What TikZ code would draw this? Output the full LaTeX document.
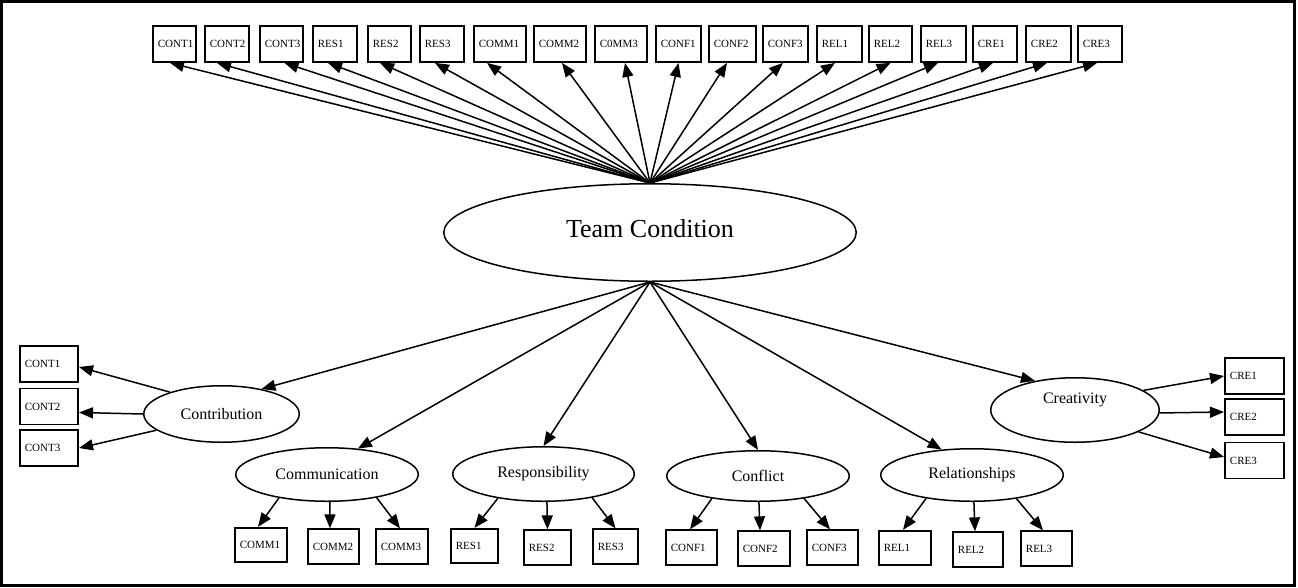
\documentclass[tikz,border=0pt]{standalone}
\usepackage{fontspec}
\setmainfont{Liberation Serif}
\usetikzlibrary{shapes.geometric,arrows.meta}
\begin{document}
\begin{tikzpicture}[x=1pt,y=-1pt,
  box/.style={draw, line width=1.8pt, rectangle, inner xsep=5pt, inner ysep=0pt, align=left, font=\fontsize{11}{13}\selectfont},
  tb/.style={box, minimum height=36pt},
  bb/.style={box, minimum height=34.5pt},
  ell/.style={draw, ellipse, line width=1.5pt, inner sep=0pt, font=\fontsize{16}{18}\selectfont},
  arr/.style={-{Triangle[length=14pt,width=11pt]}, line width=1.5pt},
]
\useasboundingbox (0,0) rectangle (1298,587);
\draw[line width=2.6pt] (1.5,1.5) rectangle (1294.5,585.5);

% top indicator boxes
\node[tb, text width=33.2pt] (t1) at (174.5,44) {CONT1};
\node[tb, text width=34.2pt] (t2) at (227,44) {CONT2};
\node[tb, text width=33.2pt] (t3) at (281.5,44) {CONT3};
\node[tb, text width=34.2pt] (t4) at (335,44) {RES1};
\node[tb, text width=33.2pt] (t5) at (389.5,44) {RES2};
\node[tb, text width=34.2pt] (t6) at (442,44) {RES3};
\node[tb, text width=42.2pt] (t7) at (500,44) {COMM1};
\node[tb, text width=42.2pt] (t8) at (560,44) {COMM2};
\node[tb, text width=42.2pt] (t9) at (621,44) {C0MM3};
\node[tb, text width=35.2pt] (t10) at (678.5,44) {CONF1};
\node[tb, text width=37.2pt] (t11) at (732.5,44) {CONF2};
\node[tb, text width=35.2pt] (t12) at (785.5,44) {CONF3};
\node[tb, text width=35.2pt] (t13) at (839.5,44) {REL1};
\node[tb, text width=33.2pt] (t14) at (890.5,44) {REL2};
\node[tb, text width=35.2pt] (t15) at (943.5,44) {REL3};
\node[tb, text width=34.2pt] (t16) at (995,44) {CRE1};
\node[tb, text width=35.2pt] (t17) at (1048.5,44) {CRE2};
\node[tb, text width=34.2pt] (t18) at (1100,44) {CRE3};

% central latent
\node[ell, minimum width=412.5pt, minimum height=97.5pt, font=\fontsize{26}{30}\selectfont] (tc) at (650,232.5) {\raisebox{9pt}{Team Condition}};

% first-order latents
\node[ell, minimum width=155.5pt, minimum height=56.5pt] (contrib) at (221.5,414) {Contribution};
\node[ell, minimum width=182.5pt, minimum height=53.5pt] (comm) at (327,474.5) {Communication};
\node[ell, minimum width=181.5pt, minimum height=54.5pt] (resp) at (543.5,474) {Responsibility};
\node[ell, minimum width=182.5pt, minimum height=50.5pt] (confl) at (758,476) {Conflict};
\node[ell, minimum width=182.5pt, minimum height=52.5pt] (rel) at (972,475) {Relationships};
\node[ell, minimum width=168.5pt, minimum height=64.5pt] (crea) at (1075,410) {\raisebox{24pt}{Creativity}};

% side boxes
\node[tb, text width=48.2pt] (l1) at (49,364) {CONT1};
\node[tb, text width=48.2pt] (l2) at (49,406.5) {CONT2};
\node[tb, text width=48.2pt] (l3) at (49,448) {CONT3};
\node[tb, text width=49.2pt] (r1) at (1254.5,376) {CRE1};
\node[tb, text width=49.2pt] (r2) at (1254.5,417) {CRE2};
\node[tb, text width=49.2pt] (r3) at (1254.5,460.5) {CRE3};

% bottom boxes
\node[bb, text width=42.2pt] (b1) at (261,545) {COMM1};
\node[bb, text width=41.2pt] (b2) at (333.5,546.5) {COMM2};
\node[bb, text width=42.2pt] (b3) at (402,546.5) {COMM3};
\node[bb, text width=37.2pt] (b4) at (474.5,546) {RES1};
\node[bb, text width=37.2pt] (b5) at (547.5,547.5) {RES2};
\node[bb, text width=35.2pt] (b6) at (615.5,546.5) {RES3};
\node[bb, text width=41.2pt] (b7) at (691.5,547.5) {CONF1};
\node[bb, text width=42.2pt] (b8) at (764,548.5) {CONF2};
\node[bb, text width=41.2pt] (b9) at (832.5,547.5) {CONF3};
\node[bb, text width=42.2pt] (b10) at (905,548) {REL1};
\node[bb, text width=40.2pt] (b11) at (978,549.5) {REL2};
\node[bb, text width=41.2pt] (b12) at (1046.5,548.5) {REL3};

% fan to top boxes
\foreach \n/\s in {t1/-4.5, t2/-10, t3/3, t4/-7, t5/-9.5, t6/-7, t7/-13, t8/2, t9/4,
  t10/0, t11/-5.5, t12/-2.5, t13/-4.5, t14/0, t15/-5.5, t16/-2, t17/-1.5, t18/-3}
  \draw[arr] (tc.north) -- ([xshift=\s pt]\n.south);

% second-order paths
\draw[arr] (tc.south) -- (contrib.32);
\draw[arr] (tc.south) -- (comm.40);
\draw[arr] (tc.south) -- (resp.north);
\draw[arr] (tc.south) -- (confl.north);
\draw[arr] (tc.south) -- (rel.140);
\draw[arr] (tc.south) -- (crea.144);

% contribution
\draw[arr] (contrib.157) -- ([yshift=-3pt]l1.east);
\draw[arr] (contrib.180) -- ([yshift=-6pt]l2.east);
\draw[arr] (contrib.194) -- (l3.east);
% creativity
\draw[arr] (crea.16) -- (r1.west);
\draw[arr] (crea.358) -- ([yshift=5pt]r2.west);
\draw[arr] (crea.341) -- ([yshift=3.5pt]r3.west);
% communication
\draw[arr] (comm.206) -- ([xshift=-3pt]b1.north);
\draw[arr] (comm.276) -- ([xshift=-3.5pt]b2.north);
\draw[arr] (comm.335) -- ([xshift=-2pt]b3.north);
% responsibility
\draw[arr] (resp.208) -- (b4.north);
\draw[arr] (resp.277) -- (b5.north);
\draw[arr] (resp.334) -- (b6.north);
% conflict
\draw[arr] (confl.206) -- ([xshift=-1.5pt]b7.north);
\draw[arr] (confl.272) -- ([xshift=-4pt]b8.north);
\draw[arr] (confl.334) -- ([xshift=-2.5pt]b9.north);
% relationships
\draw[arr] (rel.207) -- ([xshift=-2pt]b10.north);
\draw[arr] (rel.274) -- ([xshift=-3pt]b11.north);
\draw[arr] (rel.332) -- ([xshift=-3.5pt]b12.north);
\end{tikzpicture}
\end{document}
